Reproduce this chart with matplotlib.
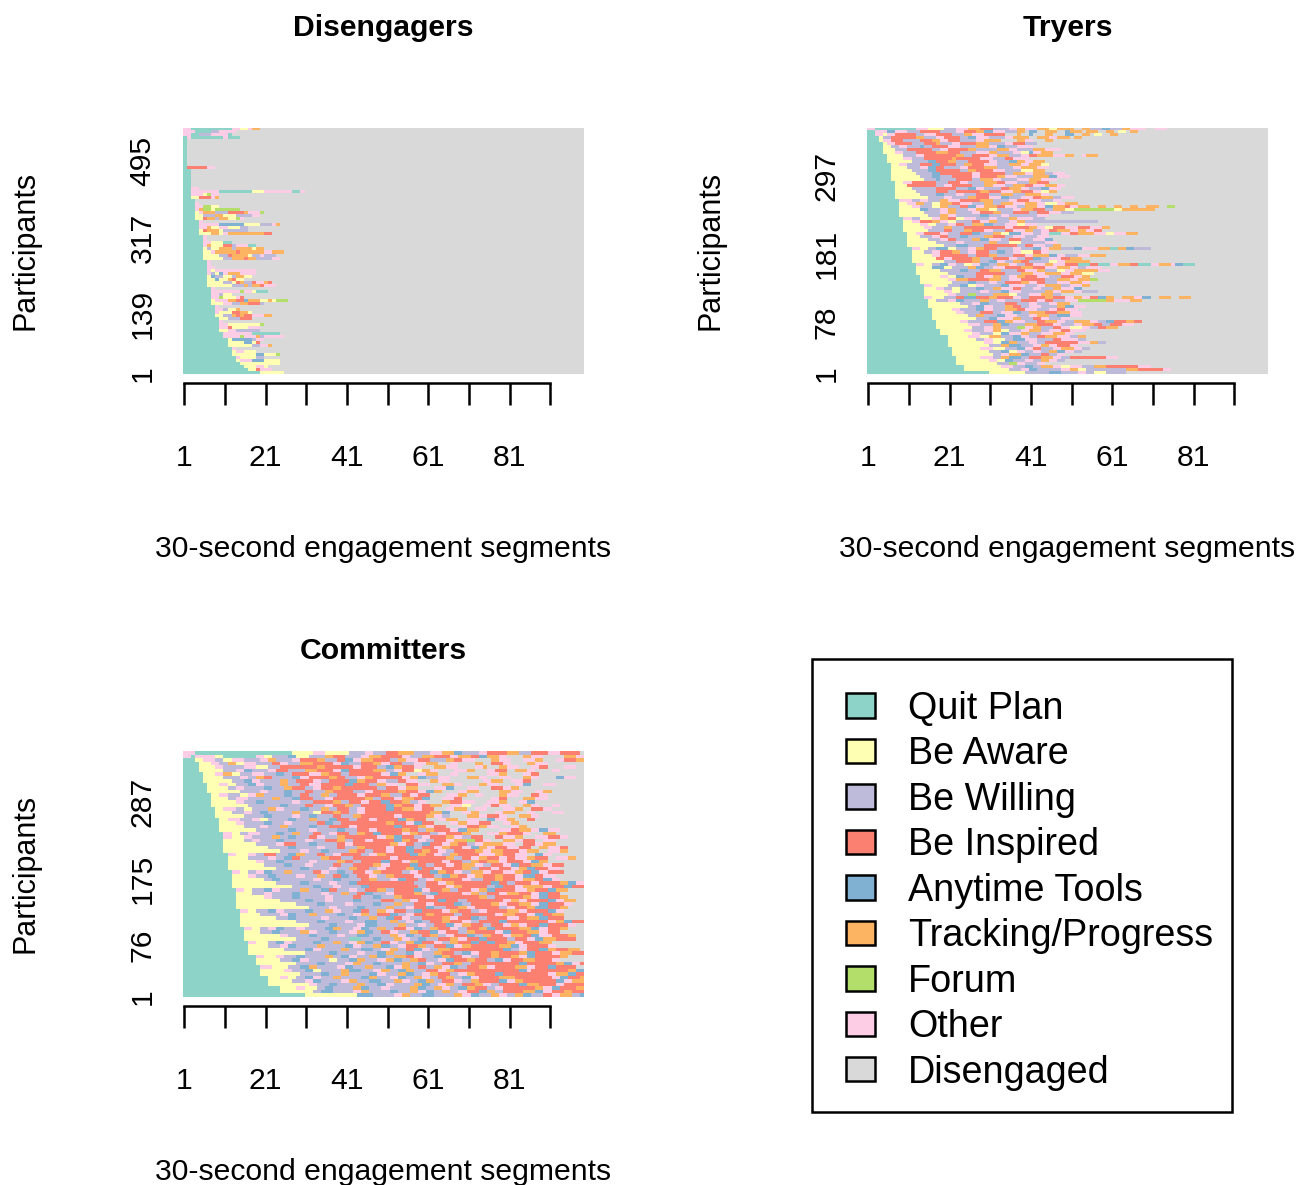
import re
import numpy as np
import matplotlib
matplotlib.use("Agg")
import matplotlib.pyplot as plt
from matplotlib.colors import ListedColormap
from matplotlib.patches import Patch, Rectangle

plt.rcParams['font.family'] = ['Liberation Sans', 'DejaVu Sans']

STATES = ["Quit Plan", "Be Aware", "Be Willing", "Be Inspired", "Anytime Tools",
          "Tracking/Progress", "Forum", "Other", "Disengaged"]
CODES = "QAWITPFOD"
COLORS = ["#8DD3C7", "#FFFFB3", "#BEBADA", "#FB8072", "#80B1D3",
          "#FDB462", "#B3DE69", "#FCCDE5", "#D9D9D9"]
N_SEGMENTS = 99

# run-length rows, top row first; whatever a row leaves open is Disengaged
DISENGAGERS = [
    "O2Q10O2A2O1P2", "O3Q4W2O4", "O2Q2W3O4Q1", "Q1O1Q8O1Q3", "Q1", "Q1", "Q1", "Q1", "Q1", "Q1", "Q1", "Q1", "Q1",
    "Q1I5O2", "Q2", "Q2", "Q2", "Q2", "Q2", "Q2", "Q2O2", "Q2O7Q8A3O7Q2O1", "Q2O3A1F1O2", "Q2A2I3O1P1", "Q3", "Q3O1",
    "Q3O2F2A2", "Q3O1P1F2A1F6", "Q3A1O1P3W3I4P1O3F1", "Q3A2W3P2A3W4O2", "Q3A2I1P2W1P2A2F1O1", "Q4O1",
    "Q4O5T6A4W3O1P1", "Q4O2P1A2O2A3W2", "Q4A1I1P3A1W6", "Q4A3P2A1O1P9I2", "Q5O1", "Q5O1", "Q5O2A3Q2",
    "Q5O1P1A3I2W1O3Q2", "Q5A1W1A2P3W1P4A1P2", "Q5A2O1P5I1P6O2P3", "Q5A4W2I1P4A1W2O1W3", "Q5A5W2P3I1P2W4O2",
    "Q6O1", "Q6O1", "Q6O2", "Q6O1A1O10", "Q6O1W1A1T1O1P3O4", "Q6A1T1W2A2W1P2A2", "Q6A2T1A2P1I1A2",
    "Q6A4W2A1I1P1W2I1O2P1I1", "Q6A6W3P1W1P2I1O3", "Q7O1", "Q7O7F1O2A1Q3", "Q7O2W1A2", "Q7O2F1A3O1I1",
    "Q7A1O3P2I2T1P3A2P1A1F3", "Q7A3O2W2P2I3W1", "Q8O1", "Q8O2W1A2P1", "Q8O1A3I2P2A1", "Q8A2W2P1I1P1I2O3P2",
    "Q9A2W3I3", "Q9O1", "Q9O2A8F1", "Q9O2I1A4O3", "Q9A2O2W6", "Q10O1O6Q7", "Q10O4F1O3P1W1O5", "Q11A1T5W1O2",
    "Q11A4T2A1I1", "Q11A6W2O2P1", "Q12O1", "Q12A1O2A3", "Q12A6T2A3F1", "Q13O1A4W2", "Q13A1O3T3A4", "Q14A10",
    "Q15A3O2A1", "Q16A2I1O3", "Q19A6",
]

TRYERS = [
    "O2Q10O3A4W3O3P3I3W4O2P2O3P3A2P4D2P2W3T2W3P2O4D2O3",
    "Q2O3T2O3W3I5W4O2I3P2T2O3W3P2D1T2D2P3D2T1P3D1P3D2P2D1A2D1P2",
    "Q2O2A1O2I5W2O3I4W3P2O3I5D3P1D2T1D3P2D3T2D2P2D1A2D2P2",
    "Q3A1W2I6P2W3O2I4W2T2O3W4O2P4D2P3O2P3D1P2",
    "Q3A1O2I3W4I3P2O2I3W4O2P4D4P2O2D3P2",
    "Q4A1O2I4W3I3P1W3O2I4P3W4O2I3W3",
    "Q4A2W2O2W3T1W2I4O3W4P3O2T2W3O4",
    "Q4A3W3I6W2O2I5P2W5P3O2W4P3O4",
    "Q4A3O2W3I5P3I3W4O3P2W4O2A2T1O2P3",
    "Q5A4W3O2I8P2W2I4O2P3W3O2I2P4O3P2D2O1P3",
    "Q5A4O2W3I7P1I6O3W3I2O4",
    "Q5A6W4T2I3P2W3I5O2W3T2P2O2P3",
    "Q6A2O2W3I3T2I4W2P2I3O3W3P3O2P3A2",
    "Q6A4W3O2T2I2W4O2I4P3W4O2P4O3",
    "Q6A5W4T2I6W2P2I4O3W4A3P3",
    "Q6A6W4T2I8O2I6W2P3O2P3W2O3",
    "Q6A7W3T2W3I5O2I4P2O3W4P4T2O3",
    "Q6A8W3T1W4I4W2P3O2W4O3P3O4",
    "Q7A2O2I6W3I3O2W4P3I2O3W3P2I3",
    "Q7A3I7W2O2I5W3P2O3W2P3I2O3P3O2",
    "Q7A4W6I5W3T2O2W4I2P3O2W3T2O3",
    "Q7A5W5I3W2I6P2I3O3P2I3O2A2P2",
    "Q7A6W4T2W3O2W3I3W3P3W3P4O2",
    "Q7A8W4O2W4P2I3O3T2W3O3I2P3W2O3",
    "Q8O3W2O2W3P2O3I5P3W4O2I3O3W3O2",
    "Q8A2O2P2W2A2P3I2O3W3P2W2P3O3P3O2A3O2P3",
    "Q8A3O2W3A2P2W3I2T2O2P3I2O3W2P3O2T2P3I1O2P3D2P2D2P2D2P2D2P3D2F2",
    "Q8A5T2W3O2P2W3O2P3A2W4O2P3I3W2P3A2F10A2P8",
    "Q8A6W4O2P2W4O2I3P2W3I4W2I3O3W3",
    "Q8A7W3P2O2W6T2W3O2W7O3",
    "Q9O2W2A3O2P2I2A2O3W3O2W3P2O4W3",
    "Q9A2O2I3P2O2A2W4I2O2P2W3O2P2W18",
    "Q9A4O2A2W3O2I2W2P3T2W3O3A2O3",
    "Q9A5O2W3P2W3I10O2I4P2O2A2I3O3I3O3P2",
    "Q9A6W4I2W3P2I3O2W3I2O3P2W2O2I2P3O2P2O2I2",
    "Q10A2O2I4O2W3I3T2W3P2A2T3O3W2O2Q3O2I2P4O3A2O3P3",
    "Q10A3W3O2I2W3T2W4P2I3W2O3W3O3",
    "Q10A5W3O2I2W4P2T2O3W2I3W3O3T2",
    "Q10A7W5O2W6P2W3A3W6O3",
    "Q10A9W3T3W4I8W2I2O3W2P2",
    "Q11O2A2W2T3A2W3O2P2I3W4O2W3T2O2P3W3T2O4P3Q2P2T2W4",
    "Q11A3W2O2I3P2W2O2I3W2T2W2O2A3I2O2",
    "Q11A5O2I7W2I3P2W4I3O2P4T2O2W3O3P4",
    "Q11A6I2O2I5P2W3I4O2W2I2T2W2O3I2P3",
    "Q11A8W3I4P2W2T2O2W2P2I2W5A2O2P6",
    "Q12O2A2W2T2O2W2A2O2T2W2P3O2W2I2O3P2O3I3Q3I2Q3O2P3I2Q3O2P3O1T2Q3",
    "Q12A4T3A2W4P2T2W2O3I4P3I3O3P3O2W2O4",
    "Q12A6W5T2W3I2P3W4I2O3P2W3A2O2P6O3",
    "Q12A8W7I7W4P3O3P4O2P3A3",
    "Q13A5O2A2T2W3I2O2P2W2O2P2I3O3W3I3O2P2",
    "Q13A7O2P3I5P3W2O3I6W3P3O2P3F2",
    "Q13A8W4T2W3O2W2I4P2O2I2W3O3P3O2",
    "Q14O2A4W3T2A2O2W4T2O4W3O2P4W2O3P2",
    "Q14A3O2W2A2W4T2W2P2O3I2W3O2W3P2O3T2",
    "Q14A5O2A2W5O2W3T2O3W6P2O2P3O2W4",
    "Q14A6O2W3F2W4P4A2W3O3P3W2",
    "Q14O2A3W3I2T3I3P2I4O2W2I4P2I3O2P2O2I2T2P2D2P3O2T2D2P3D2P3",
    "Q15A2W3O2T2W4P2W2O2W4I4O2I2W3O3F7P2O4P3",
    "Q15A8W3O2T2W4I3W3O2W3O2P3",
    "Q15A10W2T2O2W3P2I2W2O3W4P2T2O3",
    "Q16A5O2W4T2O2W3P3I2O3W3O2I2O3",
    "Q16A6O2W4I3W2O3T2W2P4I3P3O3",
    "Q16A9W2P2W3T2O3W3O2P3W2T3O3",
    "Q16A11W3T2O4P2W3I2O2W3O2",
    "Q17A6O2W4I3T2P2O3W3I2P3O2W2P4O2W2T2I3P2I2",
    "Q17A8O3W3P2T2W4P3I4O2W3O2P3I2W2I3O3",
    "Q17A9W3O2P2W4F2O2P2W3I2O2A3O2W2I2P3",
    "Q18A6O2W3O2P2A2W3O2P3W2O3I2O4",
    "Q18A8O2W3A2T2O3P2W3O3P3O2",
    "Q20A5O3A2P3W3T2O2W2I2P3O3W2P2",
    "Q20A7W2O2A3W2T3O3W4I2O4W2",
    "Q20A9O2A2T2P2W3O2W2I8O3P2W2",
    "Q20A10W3P2T3W3O2P2O2I3O2",
    "Q21A7O3A3W3T2O2I2W3O2P3O2W2",
    "Q21A9W3T2A2O2W2O2W2P2T2O2W2",
    "Q21A10W2O2P3T2W3I2W2O2",
    "Q22A6O3W2P2T3W2I3P3O2W2I9O3",
    "Q22A8O2A2T2W3O2W2P2O2W2",
    "Q22A10W3F2O2W3O2",
    "Q24A9O3W3T2W2P3O2A2O3W3P3I8O3",
    "Q24A11W3O2T2W6O2P2A2W10P3I6O2",
    "Q30A9W6T3W4O2W2A3W5",
]

COMMITTERS = [
    "O3Q24A5O3A6W4O2W3I3P4W4O3P3T2W4O2I5P3W3I4O3I5D3O2P2I4O3D4",
    "O2Q1O5A2Q8O2A2W4T2A3W4P2I3W4O2P3I5O2W3P3I4O2P3I2T2P3O2D4P2O3D5",
    "Q3A2O3W2A2O3W4O2P2W4O2I4P2W3I2T2O2P3I4W2P2O3I3W4P2I2O3D4P2O3D3",
    "Q4A3O2W2P2A2O3W4I2O2W3P3I5O2T2W3I3P2O2I3W3O3P3D3O2D4P2D2",
    "Q4A4O2W5O3A3W3I9P2I7O2I4W2T2P2I3O2D3P3O3D4O2P1D3",
    "Q4A6W3O2T2W4O2I3W4P3I4O2T2I6P3W2O2I3A2P2O2D4O3P2D3",
    "Q5A3O2P2A2W3O3W3T2W2I4O3P2I3W2I8O2T2P2D3O2P3D3O2D4",
    "Q5A5W4O2W2P2I2W5T2O2I5P2I2W3O2P2I7O2P2T2W3O3D4P3O2D3",
    "Q5A7W3T2O2W5P2W2I4O2W2I5T2P2I3O2W3I2O3D3P2O3D4",
    "Q6A3O2A2W3T2O2W4P2W3I2O3I6T2I4W2P2O3D2I3O3D3P3O2D4",
    "Q6A5W2O2W5T2W3P2I3W2O2I3P2I9W2I3O2P3D4O3T2D3",
    "Q6A8W5O2W4T2W3I2W3P2I5W3O2I6P2I3O2T2P2D4O2P3D3",
    "Q7A2O2W3A2O2P2W5T2W2I2W3P2W2I5O2I4P2W3I2O2I3D4O3P2D2",
    "Q7A4W2O3W6P2W3T2I3W3O2I8P2W2I3O2P3I2T2D3O3I2D4",
    "Q7A6O2W3T2W7O2W3I5P2W2I3O2I3T2I3P2W2O2D4P2I3O3D3",
    "Q7A9W8T2W4I2W3O2I3P2W2I6T2P2I3O2I2P3D2O3A2D3O2",
    "Q8A2O3W2A2W4P2O2W4T2W3P2W2I3W2O2I5T2I2P3O2I3D3O2P3D2O3",
    "Q8A4W3O2W2T2W6P2W3A2I3P2I2W2O2I16P3T2D3O2P2D4",
    "Q8A7W5T2W5O2W2T2W4I2W3P2I8O2I6P2O2W2D4P3O2",
    "Q9A2O3W3O2A2W5T2W3P2W3T2I3W2I3O2I5T2P2I3D3O2P3D2",
    "Q9A4O2W5T2W3O2W6I2T2W2I11P2I3O2T2I3D4O2",
    "Q9A6W4O2W3P2W5T2W3I5O2I9T2I4P2O2I3D3",
    "Q9A9W8T2W3O2W5T2W3I3O2I6P2I2W2P2I4O2T2P3D3",
    "Q10O2A2W2O3W4T2W2P2W3I2W2O2I3W2P2I2T2I5O2P2I3W2O2I4P2D4",
    "Q10O2A3O2W5P2W2T2W3I2O2W3P2I8O2P2T2I3W2O2I4P2O2W2I3D3",
    "Q10A5W2O2W4T2W5O2W3I3P2W2I3O2I5T2P2I2O2W2I3O2P3F2I2",
    "Q10A8W5O2I3W3T2W5I2O2I9P2O2I2W2T2I3O2P2I2W2O2P3",
    "Q10A11W5T2W5O2W3I2W3P2I5O2I3T2W2I3O2P2I3O2T2P2O2I3",
    "Q10A14W5O2W3T2W5P2I2W2I3O2I3T2I2P2I2O2W2I5P2O2P3",
    "Q11O2A3O2W2I3W3T2P2W3I2W2O2I5W2O2P2I6T2P2I2O2W2P2I5O2",
    "Q11A5W5O2W2T2I2W5P2I3W3I9O2I12P2W2I2O2P2I3O2",
    "Q11A7O2W3T2W6O2W5P2I2W2I5T2I3O2P2I6O2I3W2P2I2",
    "Q11A9W5T2W3O2W5I2W3I5P2O2I5T2I2W2I3O2I2P3O2W2I3",
    "Q11A12W6T2W5O2W3P2I3W2O2I5P2T2I3O2I5P2W2I3O2",
    "Q12O2A2W2O2T2W3P2W5I2O2W2T2W2I3O2P2I5W2O2I3T2P2I2O2W2P3O2I3",
    "Q12A4O2W3T2W5O2W3P2W2I2T2W2I3O2W2P2I5O2I3W2T2P2I2O2P2I3",
    "Q12A8W2T2W8O2W3T2W5I2P2W3O2T2I3W2O2P2I5O2W3I3P2",
    "Q12A11W6T2W5O2W3T2I14W3I3O2P2I9T2I2W2I4",
    "Q12A15W5T2W3O2W5T2I12W2I5O2P2I6W2T2I3O2P2",
    "Q13O2A2W3T2O2W5P2W3T2I2W3O2W2I3P2W2I5T2O2I3P2W2I3O2P2T2I3",
    "Q13A4W3O2W5T2W5O2W3P2W2I2T2W3O2I5P2W2T2I6O2P2W2I3",
    "Q13A7O2W5T2W6O2W5I2W3T2W3P2I6O2I11P2W2I3",
    "Q13A11W6T2W3O2W5T2W5I3W2P2O2I5T2I3W2I9O2",
    "Q13A15W5T2W5O2W5T2W3P2W3I3O2I5T2W2I5P2O2",
    "Q13A18W5O2W5T2W5P2W3O2I3T2W3I3P2O2I6W2",
    "Q14O2A2W3T2O2W5T2W3P2O2W3T2I2W2P2O2I3W2T2I5O2P2I3W2O2I3",
    "Q14A5W5O2T2W3P2W5T2W2O2P2W2I3T2W2O2I3P2I5W2I8O2",
    "Q14A9W3T2W6O2W5T2W3P2W2T2I2O2W3I5P2O2I3T2W2I5",
    "Q14A14W5T2W5O2W3T3W3P2W2O2T2W2I3P2I3O2W2I5T2I5",
    "Q14A17W5T2W5O2T3W5P2W3O2W2I3T2O2P2I3W2I3O2",
    "Q15O2A2W2O2T2W3O2W5T2P2W3O2T2W2P2W2I3O2T2W2P2I3O2W2I3P2T2I3",
    "Q15A4W3T2W5P2O2W3T2W3O2P2T2W2I2O2W3P2I3T2O2I3W2P2I5",
    "Q15A9O2W5T2W5O2W3T3W5P2O2T2W2I2P2W2O2I3T2W2P2I3O2",
    "Q15A13W6T2W5Q3W3T2W3P2O2W2T2W3I3P2O2I3T2I5W2",
    "Q16O2A3W2T2O2W5T2W3P2W2O2P2T2W2I2O2W2P2T2I3O2W2P2I3T2I2",
    "Q16A5W3O2T2W5P2W5T2O2W3P2T2W2O2I3P2W2I3T2O2P2I5",
    "Q16A9W5T2O2W5P2W3T3W2O2P2W2I2T2O2W2P3I13T2W2",
    "Q16A14W6T2W5O2W3T2P2W3T2O2W3P2I3W2T2O2I3P2I5",
    "Q18O2A3O2W3T2W5P2W2T2O2W3P2T2W2P3I2O2W3T2P2I3O2W2I3P2",
    "Q18A6W3T2O2W5A2W3T2P2W3O2P2T2W2P2I2W3O2T2I3P2I3W2",
    "Q18A10W5T2W5O2P2W3T2W5P2W2T2O2W2I3P2W2I12T2I3",
    "Q19O3A4W3T2P2W5O2T2W3P2W3T2O2P2W2I2W2P2O2T2W2I3P2O2I5",
    "Q19A6O2W3T2A2W5P2T3W3O2P2W2T2P2W3I3O2P2I16T2",
    "Q19A10W5T2W3P2W5T2O2W3P2T2W2O2P2I3W2O2P2I5T2I3",
    "Q21A3O2A2W2T2O2W3P2W5T2P2W3O2T2W2P2O2W2I2P2W2T2O2I5P2",
    "Q21A6W3O2T2W5O2P2W3T3W3P2O2W2T2P2W2I3O2W2P2I5T2",
    "Q21A10O2W3T2W5P2W3T2O2W5P2T2W2O2P2W2I3P2O2W2I5",
    "Q24A4O2A3W2T2W5P2T2W3O2W5P2T2W2P2O2W2T2P2I3W2O2I5",
    "Q24A8W2T3W5O2P2W5T2W3P2O2T2W2P2W2O2I3T2P2W2I5",
    "Q30A13T4W5O2P2W3T3W5P2O2T2W3P2O2W2P2T2W3I2O2P3W2T2",
]

# what each Committers row does after the part above runs out, up to segment 99
COMMITTERS_TAIL = [
    "O3I4P2I5O2I6", "P3O2I3O3P2I4O2", "O3P2D3O2I3P2O3", "I3O2D4P2O3D3", "P2O3D3O2I2D4O3", "O2I3D2P3O2D4O2",
    "D3O3P2D4O2I2D3", "O3D3P2O2D4T2O3", "D4O2P3D2O3I2D3", "P2O3D4O2T2D3O3", "O3D3I3O2P2D4", "D2P3O3D3O2P2D3",
    "O2D4P2O3D3I2O2", "D3O2I2D4P3O3", "O3P2D3O2T2D4", "I2O3D3P2O2D3O2", "D4O3P2D2I3O2", "O2P3D3O2D4O3",
    "I3O2D3P3O2D3", "O3D2T2O3P2D3I2", "P2O3I3D3O2P2D2", "O2I3P2O3D3O2P2", "D2O3I2P3O2T2O3", "O3P2I4O2D3P3",
    "I2O3P2D3O3I3O2", "O2D3P3O2I3D2O3", "P2O3D2I3O2P3D2", "O3I3D2P2O3I2", "I4O2P3D2O3P2", "O2P2I3O3D2T2O2",
    "I2O3P2I3D2O3P2", "P3O2I4O2T2P2", "O2T2I3P3O2I3", "I3O2P2T2I3O3", "O3P2I2T2O2I4", "P2I3O2T3I2O3",
    "I3O2P3I2T2O2", "O2I5P2T2O3I3", "P3O2I3T2I4O2", "I2O3P2I3T2P3", "O2P3I3O2T2I3", "I4P2O2T2I3P2",
    "P2O2I5T2O2P3", "I3P3O2T2I4O2", "O2I3P2T3I3P2", "I2P3O2I5T2O2", "P3I3O2T2I2P3", "O3I2P3T2I4",
    "I5O2P2T2I3P3", "P2O2I3T2I5O2", "I3P3T2O2I3P2", "O2T2I4P3O2I3", "P3I2T2O3I4P2", "I3O2T2P3I5",
    "T2I3P2O2I4P3", "I2P3T2O2I5O2", "O2I3T2P2I3P3", "P2T2I4O2P3I3", "I3P2O2T2I6P2", "T2O2I3P3I4O2",
    "I4P2T2O2I3P3", "P3O2I3T2I5", "O1I9P2T2O3I3", "I8O2P3T2I2P2", "P2I9O2T2I3P2", "O2P2I8T2O2P3",
    "T2P3I4O2I5P2", "I3P2O2T2I4P3", "P3T2O2I3P2I4", "I2P2T3O2I4P3",
]

GROUPS = ["Disengagers", "Tryers", "Committers"]
GROUP_ROWS = [DISENGAGERS, TRYERS, [a + b for a, b in zip(COMMITTERS, COMMITTERS_TAIL)]]
GROUP_TOTALS = [570, 369, 362]
Y_TICKS = [[1, 139, 317, 495], [1, 78, 181, 297], [1, 76, 175, 287]]
X_TICKS = list(range(1, 92, 10))
X_LABELS = ["1", "", "21", "", "41", "", "61", "", "81", ""]


def decode(row):
    out = []
    for letter, count in re.findall(r"([A-Z])(\d+)", row):
        out += [CODES.index(letter)] * int(count)
    out = out[:N_SEGMENTS]
    return out + [CODES.index("D")] * (N_SEGMENTS - len(out))


W, H = 1299, 1185
fig = plt.figure(figsize=(W / 100, H / 100), dpi=100, facecolor="white")
cmap = ListedColormap(COLORS)
BOXES = [(183, 128), (867, 128), (183, 751)]
AX_W, AX_H = 401, 246
FS = 21.7
X0, X1 = 0.66, 99.3

for name, rows, total, yt, (px, py) in zip(GROUPS, GROUP_ROWS, GROUP_TOTALS, Y_TICKS, BOXES):
    ax = fig.add_axes([px / W, 1 - (py + AX_H) / H, AX_W / W, AX_H / H])
    grid = np.array([decode(r) for r in rows])
    ax.imshow(grid, cmap=cmap, vmin=-0.5, vmax=8.5, aspect="auto", interpolation="nearest",
              extent=[X0, X1, 0.5, total + 0.5], origin="upper")
    ax.set_xlim(X0, X1)
    ax.set_ylim(0.5, total + 0.5)
    for s in ("top", "right", "left"):
        ax.spines[s].set_visible(False)
    ax.spines["bottom"].set_position(("outward", 6.5))
    ax.spines["bottom"].set_bounds(1, 91)
    ax.spines["bottom"].set_linewidth(1.8)
    ax.set_xticks(X_TICKS)
    ax.set_xticklabels(X_LABELS, fontsize=FS)
    ax.tick_params(axis="x", length=16, width=1.8, pad=28)
    ax.set_yticks(yt)
    ax.set_yticklabels([str(v) for v in yt], rotation=90, va="center", fontsize=FS)
    ax.tick_params(axis="y", length=0, pad=19)
    fig.text((px + AX_W / 2) / W, 1 - (py + 421) / H, "30-second engagement segments",
             ha="center", va="center", fontsize=FS)
    fig.text((px - 157) / W, 1 - (py + 122) / H, "Participants", rotation=90,
             ha="center", va="center", fontsize=FS + 0.3)
    fig.text((px + AX_W / 2) / W, 1 - (py - 100) / H, name, ha="center", va="center",
             fontsize=FS, fontweight="bold")

fig.add_artist(Rectangle((812 / W, 1 - 1112 / H), 420 / W, 453 / H, transform=fig.transFigure,
                         facecolor="white", edgecolor="black", linewidth=1.8))
handles = [Patch(facecolor=c, edgecolor="black", linewidth=1.8, label=s) for c, s in zip(COLORS, STATES)]
fig.legend(handles=handles, loc="upper left", bbox_to_anchor=(846 / W, 1 - 691 / H), frameon=False,
           fontsize=27.2, handlelength=0.77, handleheight=0.62, handletextpad=0.87,
           labelspacing=0.25, borderpad=0, borderaxespad=0)

fig.savefig("out.png", dpi=100)
